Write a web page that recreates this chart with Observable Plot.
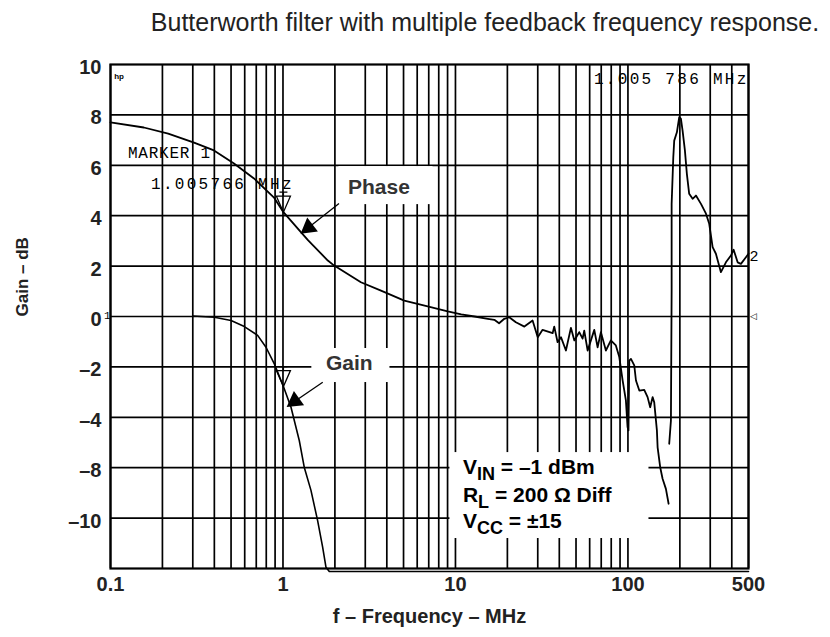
<!DOCTYPE html>
<html><head><meta charset="utf-8">
<script src="https://cdn.jsdelivr.net/npm/d3@7"></script>
<script src="https://cdn.jsdelivr.net/npm/@observablehq/plot@0.6"></script>
<style>
body{margin:0;background:#fff;}
#title{height:44px;width:830px;font:25px "Liberation Sans",Arial,sans-serif;color:#222;display:flex;align-items:center;justify-content:center;padding-left:140px;box-sizing:border-box;}
#chart svg{display:block;overflow:visible;}
</style></head><body>
<div id="title">Butterworth filter with multiple feedback frequency response.</div>
<div id="chart"></div>
<script>
// ---- data ----
const phaseFreq = [0.1,0.156,0.216,0.305,0.398,0.52,0.679,0.887,1.006,1.27,1.40,1.82,1.98,2.83,3.70,5.05,6.90,9.02,10.8,12.9,15.4,16.8,17.9,19.2,20.5,22.4,25.1,28.0,30.0,32.0,36.6,37.4,39.1,40.9,43.7,46.7,48.9,52.2,54.6,55.8,58.4,63.8,66.7,69.7,74.5,79.6,85.1,89.1,93.2,97.3,99.5,100.7,101.8,104.1,108.8,111.3,116.4,124.3,130.0,134.6,139.0,142.0,147.2,148.6,153.8,158.8,166.0,172.1];
const phaseDb = [7.70,7.50,7.26,6.90,6.59,6.07,5.48,4.72,4.14,3.35,3.02,2.22,2.02,1.36,1.03,0.63,0.40,0.20,0.08,0.00,-0.09,-0.13,-0.27,-0.09,-0.03,-0.23,-0.40,-0.16,-0.82,-0.53,-0.66,-0.40,-1.02,-0.82,-1.35,-0.45,-0.95,-0.62,-0.88,-0.56,-1.35,-0.53,-1.22,-0.62,-1.35,-0.95,-1.15,-1.61,-2.54,-3.33,-4.39,-4.52,-1.75,-1.68,-1.94,-2.54,-2.94,-2.91,-3.20,-3.60,-3.20,-3.40,-4.52,-5.19,-5.98,-6.44,-6.84,-7.43];
const gainFreq = [0.30,0.40,0.50,0.597,0.713,0.797,0.891,1.006,1.113,1.243,1.328,1.453,1.588,1.698,1.775,1.856,500];
const gainDb = [0.02,-0.03,-0.16,-0.40,-0.75,-1.22,-1.88,-2.78,-3.60,-4.92,-5.98,-6.90,-8.10,-9.15,-9.95,-10.12,-10.12];
const resFreq = [173.5,177.5,179.2,179.2,183.2,185.5,192.2,198.3,202.8,207.4,213.9,219.6,226.5,237.1,247.9,265.1,283.4,296.0,309.7,323.6,346.0,369.8,395.4,410.0,432.5,451.9,483.1,500];
const resDb = [-5.05,-4.13,1.03,4.47,6.32,6.98,7.31,7.91,7.85,7.38,6.59,5.66,4.87,4.67,4.80,4.47,4.08,3.68,2.75,2.49,1.76,2.15,2.42,2.65,2.15,2.09,2.35,2.49];

const xTickValues = [0.1, 1, 10, 100, 500];
const xTickLabels = ["0.1", "1", "10", "100", "500"];
const yTickValues = [10, 8, 6, 4, 2, 0, -2, -4, -6, -8];
const yTickLabels = ["10", "8", "6", "4", "2", "0", "–2", "–4", "–8", "–10"];
const yGridValues = [-8, -6, -4, -2, 0, 2, 4, 6, 8];
const decades = [0.1, 1, 10, 100];
const multiples = [1, 2, 3, 4, 5, 6, 7, 8, 9];

const markerFreq = [1.0058, 1.0058];
const markerDb = [4.14, -2.78];

const labelNames = ["Phase", "Gain"];
const labelFreq = [2.38, 1.775];
const labelDb = [5.12, -1.87];

const conditionLines = ["V_{IN} = –1 dBm", "R_{L} = 200 Ω Diff", "V_{CC} = ±15"];
const conditionFreq = 11.05;
const conditionDb = [-5.99, -7.10, -8.13];

const instrTexts = ["MARKER 1", "1.005766 MHz", "1.005 786 MHz"];
const instrFreq = [0.1263, 0.1717, 63.5];
const instrDb = [6.51, 5.28, 9.44];

// ---- build tables ----
const phase = phaseFreq.map((f, i) => ({f, v: phaseDb[i]}));
const gain = gainFreq.map((f, i) => ({f, v: gainDb[i]}));
const res = resFreq.map((f, i) => ({f, v: resDb[i]}));
const xGrid = decades.flatMap(d => multiples.map(k => +(k * d).toPrecision(3))).filter(v => v <= 500);
const boxes = [
  {x1: 2.11, x2: 7.41, y1: 4.44, y2: 5.95},
  {x1: 1.47, x2: 4.17, y1: -2.62, y2: -1.27},
  {x1: 9.29, x2: 132.4, y1: -8.81, y2: -5.40}
];
const arrows = [
  {x1: 2.112, y1: 4.48, x2: 1.407, y2: 3.53, rot: -127.6},
  {x1: 1.70, y1: -2.61, x2: 1.172, y2: -3.36, rot: -125.5}
];
const markers = markerFreq.map((f, i) => ({f, v: markerDb[i]}));
const labels = labelNames.map((t, i) => ({t, f: labelFreq[i], v: labelDb[i]}));
const conds = conditionLines.map((t, i) => ({t, f: conditionFreq, v: conditionDb[i]}));
const instr = instrTexts.map((t, i) => ({t, f: instrFreq[i], v: instrDb[i]}));
const xTicks = xTickValues.map((v, i) => ({v, t: xTickLabels[i]}));
const yTicks = yTickValues.map((v, i) => ({v, t: yTickLabels[i]}));

const markerSymbol = {
  draw(ctx) {
    ctx.moveTo(0, 0); ctx.lineTo(-7, -16); ctx.lineTo(7, -16); ctx.closePath();
    ctx.moveTo(0, -16); ctx.lineTo(0, -20);
    ctx.moveTo(-4, -20); ctx.lineTo(4, -20);
  }
};

const sans = "Liberation Sans, Arial, Helvetica, sans-serif";
const mono = "Liberation Mono, DejaVu Sans Mono, monospace";

const chart = Plot.plot({
  width: 830, height: 593,
  marginLeft: 110, marginRight: 82, marginTop: 20, marginBottom: 69,
  x: {type: "log", domain: [0.1, 500], axis: null},
  y: {domain: [-10, 10], axis: null},
  style: {fontFamily: sans, background: "white", color: "black", overflow: "visible"},
  marks: [
    Plot.ruleX(xGrid, {stroke: "black", strokeWidth: 1.7}),
    Plot.ruleY(yGridValues, {stroke: "black", strokeWidth: 1.7}),
    Plot.rect(boxes, {x1: "x1", x2: "x2", y1: "y1", y2: "y2", fill: "white"}),
    Plot.frame({stroke: "black", strokeWidth: 2.2}),
    Plot.line(phase, {x: "f", y: "v", stroke: "black", strokeWidth: 1.8}),
    Plot.line(gain, {x: "f", y: "v", stroke: "black", strokeWidth: 1.6}),
    Plot.line(res, {x: "f", y: "v", stroke: "black", strokeWidth: 1.8}),
    Plot.dot(markers, {x: "f", y: "v", symbol: markerSymbol, fill: "none", stroke: "black", strokeWidth: 1.3}),
    Plot.link(arrows, {x1: "x1", y1: "y1", x2: "x2", y2: "y2", stroke: "black", strokeWidth: 1.3}),
    Plot.dot(arrows, {x: "x2", y: "y2", symbol: "triangle", r: 6.5, fill: "black", stroke: "none", rotate: "rot"}),
    Plot.text(labels, {x: "f", y: "v", text: "t", textAnchor: "start", fontSize: 21, fontWeight: "bold", fill: "#333"}),
    Plot.text(conds, {x: "f", y: "v", text: "t", textAnchor: "start", fontSize: 21, fontWeight: "bold", fill: "black"}),
    Plot.text(instr, {x: "f", y: "v", text: "t", textAnchor: "start", fontSize: 16, fontFamily: mono, fill: "black"}),
    Plot.text(["hp"], {x: 0.105, y: 9.52, text: d => d, textAnchor: "start", fontSize: 8, fontWeight: "bold"}),
    Plot.text(["2"], {x: 500, y: 2.38, text: d => d, textAnchor: "start", dx: 1, fontSize: 15, fontFamily: mono}),
    Plot.text(["1"], {x: 0.1, y: 0.05, text: d => d, textAnchor: "end", fontSize: 11, fontFamily: mono}),
    Plot.text(["◁"], {x: 500, y: 0, text: d => d, textAnchor: "start", dx: 1, fontSize: 9}),
    Plot.text(xTicks, {x: "v", text: "t", frameAnchor: "bottom", dy: 22, fontSize: 20, fontWeight: "bold", fill: "#222"}),
    Plot.text(yTicks, {y: "v", text: "t", frameAnchor: "left", textAnchor: "end", dx: -9, dy: 3, fontSize: 20, fontWeight: "bold", fill: "#222"}),
    Plot.text(["Gain – dB"], {frameAnchor: "left", text: d => d, dx: -88, rotate: -90, fontSize: 17, fontWeight: "bold", fill: "#222"}),
    Plot.text(["f – Frequency – MHz"], {frameAnchor: "bottom", text: d => d, dy: 54, fontSize: 20, fontWeight: "bold", fill: "#222"})
  ]
});
document.getElementById("chart").appendChild(chart);

// post-process: subscripts and instrument-font letter spacing
const spacing = {"MARKER 1": 0.75, "1.005766 MHz": 2.3, "1.005 786 MHz": 2.3};
d3.select(chart).selectAll("text").each(function () {
  const t = this.textContent;
  if (spacing[t] !== undefined) this.setAttribute("letter-spacing", spacing[t]);
  if (t.includes("_{")) {
    const parts = t.split(/(_\{[^}]*\})/).filter(p => p.length);
    while (this.firstChild) this.removeChild(this.firstChild);
    let shifted = false;
    for (const p of parts) {
      const ts = document.createElementNS("http://www.w3.org/2000/svg", "tspan");
      if (p.startsWith("_{")) {
        ts.textContent = p.slice(2, -1);
        ts.setAttribute("dy", 6);
        ts.setAttribute("font-size", 18);
        shifted = true;
      } else {
        ts.textContent = p;
        if (shifted) { ts.setAttribute("dy", -6); shifted = false; }
      }
      this.appendChild(ts);
    }
  }
});
</script>
</body></html>
